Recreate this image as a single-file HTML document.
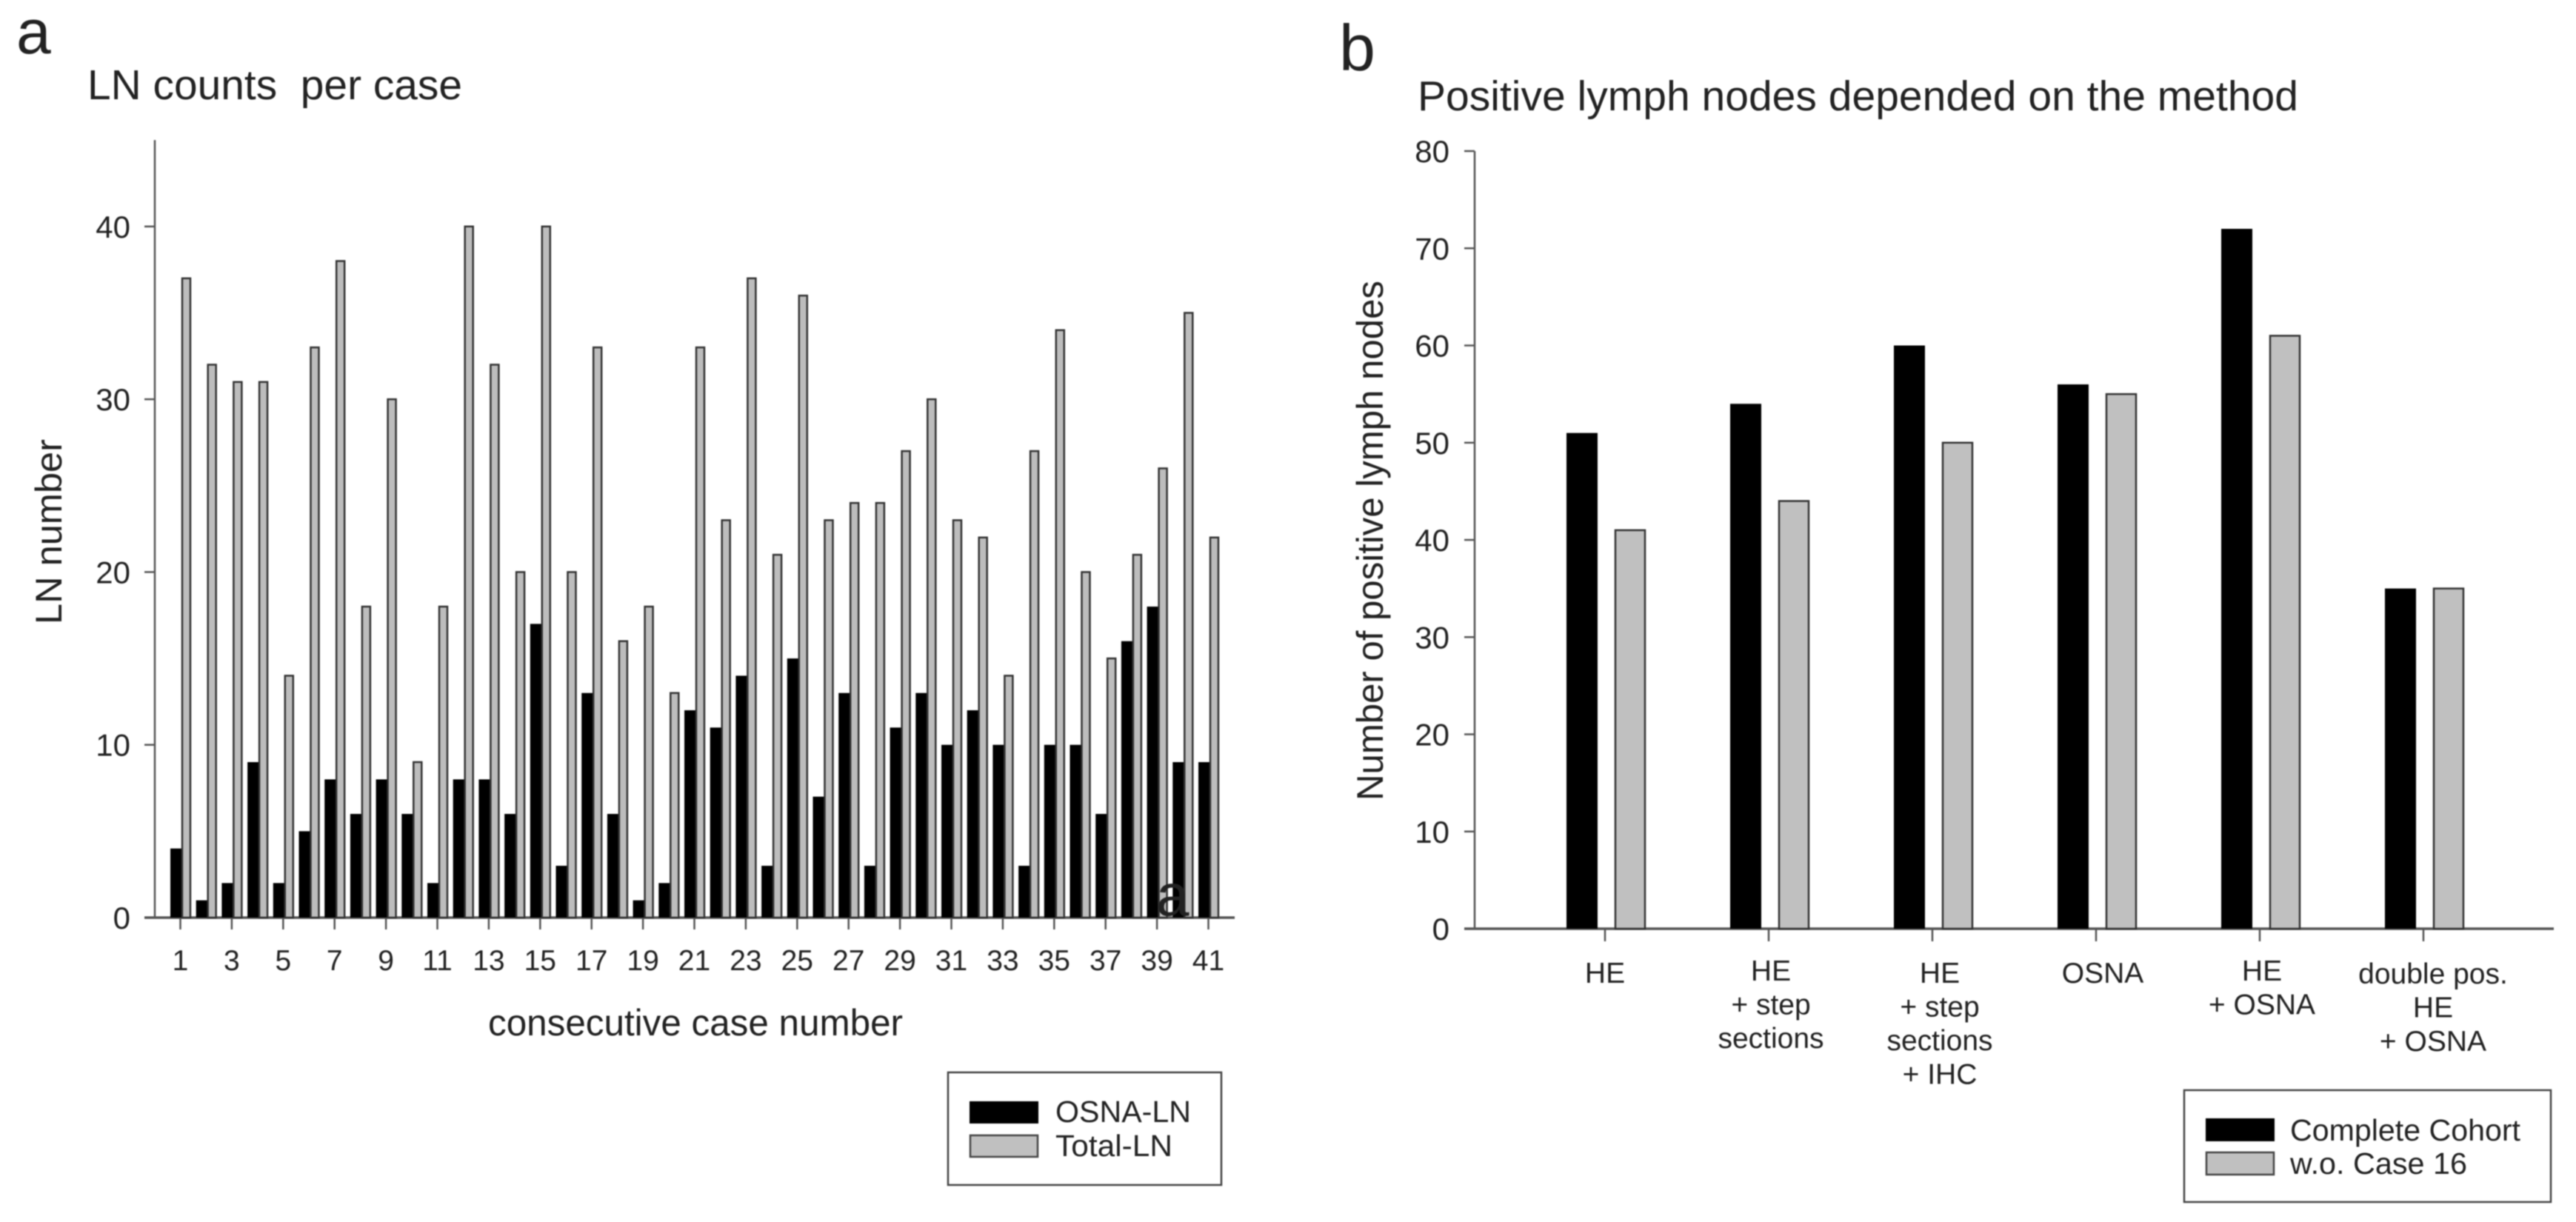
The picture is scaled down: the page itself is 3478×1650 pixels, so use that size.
<!DOCTYPE html>
<html>
<head>
<meta charset="utf-8">
<title>LN counts and positive lymph nodes</title>
<style>
html,body{margin:0;padding:0;background:#fff}
svg{display:block;filter:blur(0.7px)}
text{font-family:"Liberation Sans",Arial,sans-serif;fill:#222}
</style>
</head>
<body>
<svg id="fig" xmlns="http://www.w3.org/2000/svg" width="3478" height="1650" viewBox="0 0 3478 1650">
<rect width="3478" height="1650" fill="#fff"/>
<text x="22" y="72" font-size="84">a</text>
<text x="1808" y="95" font-size="88">b</text>
<text x="118" y="134" font-size="57" textLength="506" lengthAdjust="spacingAndGlyphs" xml:space="preserve">LN counts  per case</text>
<text x="1914" y="149" font-size="57" textLength="1189" lengthAdjust="spacingAndGlyphs">Positive lymph nodes depended on the method</text>
<text transform="translate(83,843) rotate(-90)" font-size="50" textLength="250" lengthAdjust="spacingAndGlyphs">LN number</text>
<text x="659" y="1398" font-size="50" textLength="560" lengthAdjust="spacingAndGlyphs">consecutive case number</text>
<text transform="translate(1867,1081) rotate(-90)" font-size="50" textLength="702" lengthAdjust="spacingAndGlyphs">Number of positive lymph nodes</text>
<g id="a-axes"></g>
<g id="a-bars"></g>
<g id="b-axes"></g>
<g id="b-bars"></g>
<text x="1561" y="1236" font-size="80">a</text>

<g>
<rect x="1280" y="1448" width="369" height="152" fill="#fff" stroke="#444" stroke-width="2.5"/>
<rect x="1309" y="1487" width="93" height="30" fill="#000"/>
<rect x="1310" y="1533" width="91" height="29" fill="#c0c0c0" stroke="#444" stroke-width="2.5"/>
<text x="1425" y="1515" font-size="41" textLength="183" lengthAdjust="spacingAndGlyphs">OSNA-LN</text>
<text x="1425" y="1561" font-size="41" textLength="158" lengthAdjust="spacingAndGlyphs">Total-LN</text>
</g>
<g>
<rect x="2949" y="1472" width="495" height="151" fill="#fff" stroke="#444" stroke-width="2.5"/>
<rect x="2978" y="1510" width="93" height="31" fill="#000"/>
<rect x="2979" y="1556" width="91" height="30" fill="#c0c0c0" stroke="#444" stroke-width="2.5"/>
<text x="3092" y="1540" font-size="41" textLength="311" lengthAdjust="spacingAndGlyphs">Complete Cohort</text>
<text x="3092" y="1585" font-size="41" textLength="239" lengthAdjust="spacingAndGlyphs">w.o. Case 16</text>
</g>
</svg>
<script>
const osnaLN = [4,1,2,9,2,5,8,6,8,6,2,8,8,6,17,3,13,6,1,2,12,11,14,3,15,7,13,3,11,13,10,12,10,3,10,10,6,16,18,9,9];
const totalLN = [37,32,31,31,14,33,38,18,30,9,18,40,32,20,40,20,33,16,18,13,33,23,37,21,36,23,24,24,27,30,23,22,14,27,34,20,15,21,26,35,22];
const aYTicks = [0,10,20,30,40];
const aXTicks = [1,3,5,7,9,11,13,15,17,19,21,23,25,27,29,31,33,35,37,39,41];

const methods = [["HE"],["HE","+ step","sections"],["HE","+ step","sections","+ IHC"],["OSNA"],["HE","+ OSNA"],["double pos.","HE","+ OSNA"]];
const completeCohort = [51,54,60,56,72,35];
const withoutCase16 = [41,44,50,55,61,35];
const bYTicks = [0,10,20,30,40,50,60,70,80];

const NS = 'http://www.w3.org/2000/svg';
const AXIS = '#555';
function mk(tag, parent, attrs) {
  const el = document.createElementNS(NS, tag);
  for (const k in attrs) el.setAttribute(k, attrs[k]);
  parent.appendChild(el);
  return el;
}
const yA = v => 1239 - v * 23.33;
const xA = c => 244.5 + (c - 1) * 34.7;
const yB = v => 1254 - v * 13.125;
const xB = i => 2167 + i * 221;

/* Chart A */
const aAxes = document.getElementById('a-axes');
const aBars = document.getElementById('a-bars');
const aYAxis = mk('line', aAxes, {x1:209, x2:209, y1:yA(45), y2:yA(0), stroke:AXIS, 'stroke-width':2.5});


aYTicks.forEach(v => {
  const t = mk('line', aAxes, {x1:195, x2:209, y1:yA(v), y2:yA(v), stroke:AXIS, 'stroke-width':2.5});
  
  
  const l = mk('text', aAxes, {x:176, y:yA(v) + 15, 'font-size':42, 'text-anchor':'end'});
  l.textContent = v;
  
  
});
aXTicks.forEach(c => {
  const t = mk('line', aAxes, {x1:xA(c) - 1, x2:xA(c) - 1, y1:yA(0), y2:yA(0) + 16, stroke:AXIS, 'stroke-width':2.5});
  
  
  const l = mk('text', aAxes, {x:xA(c) - 1, y:1310, 'font-size':39, 'text-anchor':'middle'});
  l.textContent = c;
  
  
});
osnaLN.forEach((v, i) => {
  const c = xA(i + 1);
  const b = mk('rect', aBars, {x:c - 14.5, y:yA(v), width:15, height:yA(0) - yA(v), fill:'#000'});
  
  
});
totalLN.forEach((v, i) => {
  const c = xA(i + 1);
  const b = mk('rect', aBars, {x:c + 1.5, y:yA(v), width:11, height:yA(0) - yA(v), fill:'#bdbdbd', stroke:'#333', 'stroke-width':2.5});
  
  
});
const aXAxis = mk('line', aAxes, {x1:195, x2:1667, y1:yA(0), y2:yA(0), stroke:AXIS, 'stroke-width':3.5});



/* Chart B */
const bAxes = document.getElementById('b-axes');
const bBars = document.getElementById('b-bars');
const labelShift = [0, 3, 10, 9, 3, 13];
const labelDrop = [2, -1, 2, 2, -1, 3];
const bYAxis = mk('line', bAxes, {x1:1991, x2:1991, y1:yB(80), y2:yB(0), stroke:AXIS, 'stroke-width':2.5});


bYTicks.forEach(v => {
  const t = mk('line', bAxes, {x1:1977, x2:1991, y1:yB(v), y2:yB(v), stroke:AXIS, 'stroke-width':2.5});
  
  
  const l = mk('text', bAxes, {x:1957, y:yB(v) + 15, 'font-size':42, 'text-anchor':'end'});
  l.textContent = v;
  
  
});
methods.forEach((lines, i) => {
  const t = mk('line', bAxes, {x1:xB(i), x2:xB(i), y1:yB(0), y2:yB(0) + 17, stroke:AXIS, 'stroke-width':2.5});
  
  
  lines.forEach((line, j) => {
    const l = mk('text', bAxes, {x:xB(i) + labelShift[i], y:1325 + labelDrop[i] + j * 45.5, 'font-size':39, 'text-anchor':'middle'});
    l.textContent = line;
    
    
  });
});
completeCohort.forEach((v, i) => {
  const b = mk('rect', bBars, {x:xB(i) - 52, y:yB(v), width:42, height:yB(0) - yB(v), fill:'#000'});
  
  
});
withoutCase16.forEach((v, i) => {
  const b = mk('rect', bBars, {x:xB(i) + 14, y:yB(v), width:40, height:yB(0) - yB(v), fill:'#c0c0c0', stroke:'#333', 'stroke-width':2.5});
  
  
});
const bXAxis = mk('line', bAxes, {x1:1977, x2:3448, y1:yB(0), y2:yB(0), stroke:AXIS, 'stroke-width':3.5});


</script>
</body>
</html>
